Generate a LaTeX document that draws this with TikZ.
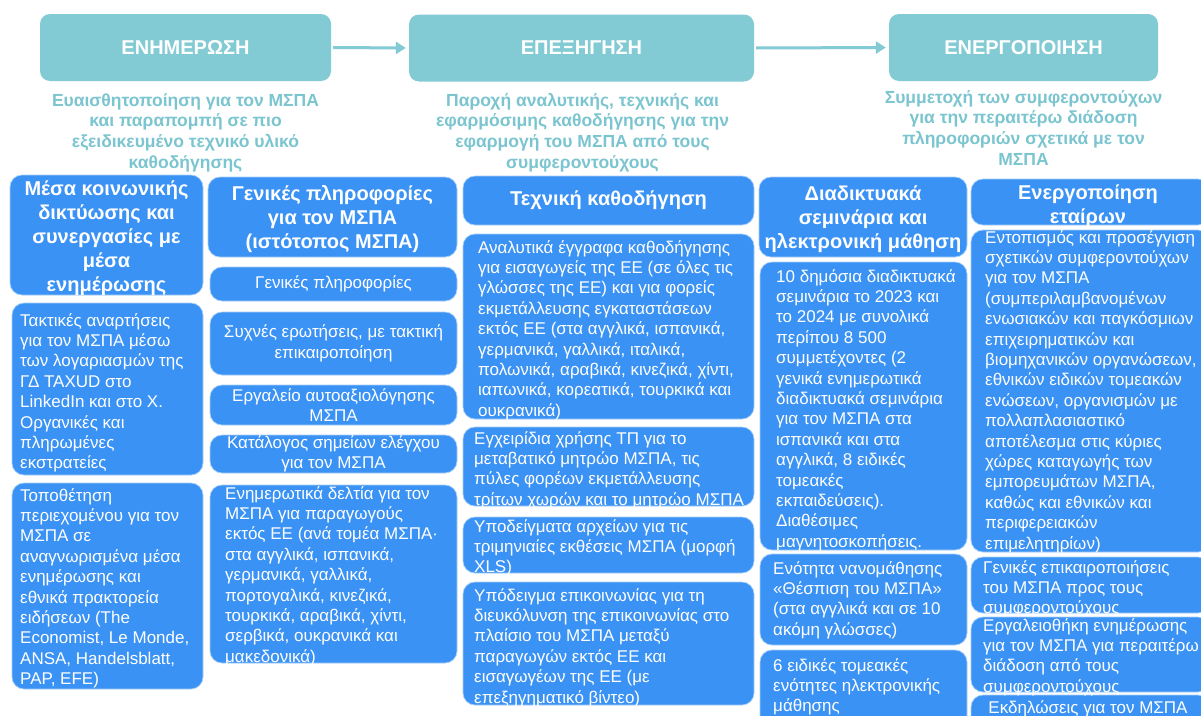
\documentclass[tikz,border=0pt]{standalone}
\usepackage{fontspec}
\setmainfont{Liberation Sans}
\usetikzlibrary{arrows.meta}
\definecolor{tealbox}{RGB}{130,203,212}
\definecolor{tealtxt}{RGB}{122,197,207}
\definecolor{bluebox}{RGB}{58,146,245}
\newcommand\bbx[6]{\node[bbox, minimum width={(#4)-(#2)}, minimum height={(#5)-(#3)}] (#1) at ({((#2)+(#4))/2},{((#3)+(#5))/2}) {#6};}
\begin{document}
\begin{tikzpicture}[x=1pt,y=-1pt,
  topbox/.style={fill=tealbox, rounded corners=10pt, text=white, font=\bfseries\fontsize{20}{24}\selectfont, inner sep=0pt},
  subtxt/.style={text=tealtxt, font=\bfseries\fontsize{17.5}{20.8}\selectfont, align=center, anchor=north, inner sep=0pt},
  bbox/.style={fill=bluebox, draw=white!55!bluebox, line width=0.7pt, rounded corners=12pt, inner sep=0pt, text=white, font=\fontsize{17}{20.4}\selectfont, align=center},
  hdtxt/.style={text=white, font=\bfseries\fontsize{20}{24}\selectfont, align=center, anchor=north, inner sep=0pt},
  bdtxt/.style={text=white, font=\fontsize{17}{20.4}\selectfont, align=left, anchor=north west, inner sep=0pt},
  bdctxt/.style={bdtxt, align=center, anchor=north},
  arr/.style={draw=tealbox, line width=3pt, -{Triangle[length=10pt,width=12pt]}, shorten <=2pt, shorten >=3pt}
]
\useasboundingbox (0,0) rectangle (1201,715);
\fill[white] (0,0) rectangle (1201,715);
\clip (0,0) rectangle (1201,715);

% top stage boxes
\node[topbox, minimum width=291pt, minimum height=67pt] (t1) at (185.5,47.5) {ΕΝΗΜΕΡΩΣΗ};
\node[topbox, minimum width=345pt, minimum height=67pt] (t2) at (581.5,48) {ΕΠΕΞΗΓΗΣΗ};
\node[topbox, minimum width=269pt, minimum height=67pt] (t3) at (1023.5,47.5) {ΕΝΕΡΓΟΠΟΙΗΣΗ};
\draw[arr] (t1.east) -- (t2.west);
\draw[arr] (t2.east) -- (t3.west);

% subtitles
\node[subtxt] (s1) at (185.5,91.4) {\strut Ευαισθητοποίηση για τον ΜΣΠΑ\\και παραπομπή σε πιο\\εξειδικευμένο τεχνικό υλικό\\καθοδήγησης};
\node[subtxt] (s2) at (582.5,91.4) {\strut Παροχή αναλυτικής, τεχνικής και\\εφαρμόσιμης καθοδήγησης για την\\εφαρμογή του ΜΣΠΑ από τους\\συμφεροντούχους};
\node[subtxt] (s3) at (1023.5,88.4) {\strut Συμμετοχή των συμφεροντούχων\\για την περαιτέρω διάδοση\\πληροφοριών σχετικά με τον\\ΜΣΠΑ};

% column 1
\bbx{c1h}{10}{175}{203}{295}{}
\bbx{c1a}{12}{303}{203}{475}{}
\bbx{c1b}{12}{483}{203}{689}{}
\node[hdtxt] (c1h-t) at (106.5,178.2) {\strut Μέσα κοινωνικής\\δικτύωσης και\\συνεργασίες με\\μέσα\\ενημέρωσης};
\node[bdtxt] (c1a-t) at (20,311.7) {\strut Τακτικές αναρτήσεις\\για τον ΜΣΠΑ μέσω\\των λογαριασμών της\\ΓΔ TAXUD στο\\LinkedIn και στο X.\\Οργανικές και\\πληρωμένες\\εκστρατείες};
\node[bdtxt] (c1b-t) at (20,486.7) {\strut Τοποθέτηση\\περιεχομένου για τον\\ΜΣΠΑ σε\\αναγνωρισμένα μέσα\\ενημέρωσης και\\εθνικά πρακτορεία\\ειδήσεων (The\\Economist, Le Monde,\\ANSA, Handelsblatt,\\PAP, EFE)};

% column 2
\bbx{c2h}{208}{177}{457}{257}{}
\bbx{c2a}{210}{267}{457}{301}{Γενικές πληροφορίες}
\bbx{c2b}{210}{312}{457}{375}{Συχνές ερωτήσεις, με τακτική\\επικαιροποίηση}
\bbx{c2c}{210}{385}{457}{425}{Εργαλείο αυτοαξιολόγησης\\ΜΣΠΑ}
\bbx{c2d}{210}{435}{457}{473}{Κατάλογος σημείων ελέγχου\\για τον ΜΣΠΑ}
\bbx{c2e}{210}{485}{457}{663}{}
\node[hdtxt] (c2h-t) at (332.5,183.2) {\strut Γενικές πληροφορίες\\για τον ΜΣΠΑ\\(ιστότοπος ΜΣΠΑ)};
\node[bdtxt] (c2e-t) at (225,484.7) {\strut Ενημερωτικά δελτία για τον\\ΜΣΠΑ για παραγωγούς\\εκτός ΕΕ (ανά τομέα ΜΣΠΑ·\\στα αγγλικά, ισπανικά,\\γερμανικά, γαλλικά,\\πορτογαλικά, κινεζικά,\\τουρκικά, αραβικά, χίντι,\\σερβικά, ουκρανικά και\\μακεδονικά)};

% column 3
\node[bbox, minimum width=291pt, minimum height=49pt, font=\bfseries\fontsize{20}{24}\selectfont] (c3h) at (608.5,200.5) {Τεχνική καθοδήγηση};
\bbx{c3a}{463}{234}{754}{419}{}
\bbx{c3b}{463}{427}{754}{506}{}
\bbx{c3c}{463}{517}{754}{573}{}
\bbx{c3d}{463}{582}{754}{705}{}
\node[bdtxt] (c3a-t) at (478,238.7) {\strut Αναλυτικά έγγραφα καθοδήγησης\\για εισαγωγείς της ΕΕ (σε όλες τις\\γλώσσες της ΕΕ) και για φορείς\\εκμετάλλευσης εγκαταστάσεων\\εκτός ΕΕ (στα αγγλικά, ισπανικά,\\γερμανικά, γαλλικά, ιταλικά,\\πολωνικά, αραβικά, κινεζικά, χίντι,\\ιαπωνικά, κορεατικά, τουρκικά και\\ουκρανικά)};
\node[bdtxt] (c3b-t) at (474,429.7) {\strut Εγχειρίδια χρήσης ΤΠ για το\\μεταβατικό μητρώο ΜΣΠΑ, τις\\πύλες φορέων εκμετάλλευσης\\τρίτων χωρών και το μητρώο ΜΣΠΑ};
\node[bdtxt] (c3c-t) at (474,517.7) {\strut Υποδείγματα αρχείων για τις\\τριμηνιαίες εκθέσεις ΜΣΠΑ (μορφή\\XLS)};
\node[bdtxt] (c3d-t) at (474,586.7) {\strut Υπόδειγμα επικοινωνίας για τη\\διευκόλυνση της επικοινωνίας στο\\πλαίσιο του ΜΣΠΑ μεταξύ\\παραγωγών εκτός ΕΕ και\\εισαγωγέων της ΕΕ (με\\επεξηγηματικό βίντεο)};

% column 4
\bbx{c4h}{759}{177}{967}{257}{}
\bbx{c4a}{760}{262}{967}{550}{}
\bbx{c4b}{760}{554}{967}{645}{}
\bbx{c4c}{760}{650}{967}{740}{}
\node[hdtxt] (c4h-t) at (863,183.2) {\strut Διαδικτυακά\\σεμινάρια και\\ηλεκτρονική μάθηση};
\node[bdtxt] (c4a-t) at (776,267.7) {\strut 10 δημόσια διαδικτυακά\\σεμινάρια το 2023 και\\το 2024 με συνολικά\\περίπου 8 500\\συμμετέχοντες (2\\γενικά ενημερωτικά\\διαδικτυακά σεμινάρια\\για τον ΜΣΠΑ στα\\ισπανικά και στα\\αγγλικά, 8 ειδικές\\τομεακές\\εκπαιδεύσεις).\\Διαθέσιμες\\μαγνητοσκοπήσεις.};
\node[bdtxt] (c4b-t) at (773,559.7) {\strut Ενότητα νανομάθησης\\«Θέσπιση του ΜΣΠΑ»\\(στα αγγλικά και σε 10\\ακόμη γλώσσες)};
\node[bdtxt] (c4c-t) at (773,656.7) {\strut 6 ειδικές τομεακές\\ενότητες ηλεκτρονικής\\μάθησης};

% column 5
\bbx{c5h}{971}{179}{1210}{225}{}
\bbx{c5a}{971}{230}{1210}{552}{}
\bbx{c5b}{971}{557}{1210}{613}{}
\bbx{c5c}{971}{617}{1210}{692}{}
\bbx{c5d}{971}{695}{1210}{740}{}
\node[hdtxt] (c5h-t) at (1088,182.2) {\strut Ενεργοποίηση\\εταίρων};
\node[bdtxt] (c5a-t) at (985,228.7) {\strut Εντοπισμός και προσέγγιση\\σχετικών συμφεροντούχων\\για τον ΜΣΠΑ\\(συμπεριλαμβανομένων\\ενωσιακών και παγκόσμιων\\επιχειρηματικών και\\βιομηχανικών οργανώσεων,\\εθνικών ειδικών τομεακών\\ενώσεων, οργανισμών με\\πολλαπλασιαστικό\\αποτέλεσμα στις κύριες\\χώρες καταγωγής των\\εμπορευμάτων ΜΣΠΑ,\\καθώς και εθνικών και\\περιφερειακών\\επιμελητηρίων)};
\node[bdtxt] (c5b-t) at (983,558.7) {\strut Γενικές επικαιροποιήσεις\\του ΜΣΠΑ προς τους\\συμφεροντούχους};
\node[bdtxt] (c5c-t) at (983,616.7) {\strut Εργαλειοθήκη ενημέρωσης\\για τον ΜΣΠΑ για περαιτέρω\\διάδοση από τους\\συμφεροντούχους};
\node[bdctxt] (c5d-t) at (1088,698.7) {\strut Εκδηλώσεις για τον ΜΣΠΑ};
\end{tikzpicture}
\end{document}
